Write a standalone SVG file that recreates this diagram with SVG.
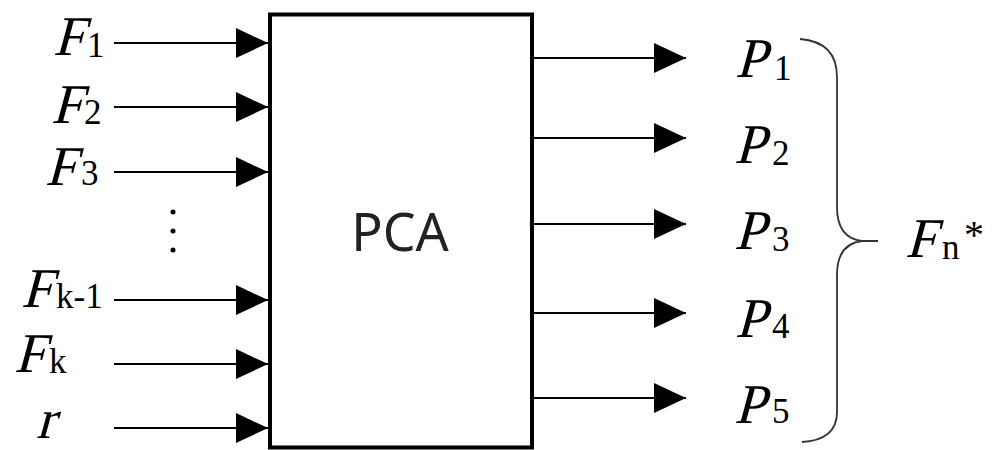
<svg xmlns="http://www.w3.org/2000/svg" width="998" height="450" viewBox="0 0 998 450">
<style>
.v{font-family:"Liberation Serif","Times New Roman",serif;font-size:56px;fill:#000}
.s{font-family:"Liberation Serif","Times New Roman",serif;font-size:35px;fill:#000}
.ln{stroke:#000;stroke-width:2;fill:none}
.box{fill:#fff;stroke:#000;stroke-width:4}
.pca{font-family:"Noto Sans","Open Sans",sans-serif;font-size:52px;fill:#222}
</style>
<defs>
<marker id="ah" markerUnits="userSpaceOnUse" markerWidth="32" markerHeight="32" refX="32" refY="15" orient="auto"><path d="M0,0 L32,15 L0,30 z" fill="#000"/></marker>
</defs>
<rect width="998" height="450" fill="#fff"/>
<g id="connectors">
<line class="ln" x1="114" y1="43" x2="268" y2="43" marker-end="url(#ah)"/>
<line class="ln" x1="114" y1="107" x2="268" y2="107" marker-end="url(#ah)"/>
<line class="ln" x1="114" y1="172" x2="268" y2="172" marker-end="url(#ah)"/>
<line class="ln" x1="114" y1="300" x2="268" y2="300" marker-end="url(#ah)"/>
<line class="ln" x1="114" y1="364" x2="268" y2="364" marker-end="url(#ah)"/>
<line class="ln" x1="114" y1="428" x2="268" y2="428" marker-end="url(#ah)"/>
<line class="ln" x1="533" y1="58" x2="686" y2="58" marker-end="url(#ah)"/>
<line class="ln" x1="533" y1="138" x2="686" y2="138" marker-end="url(#ah)"/>
<line class="ln" x1="533" y1="224" x2="686" y2="224" marker-end="url(#ah)"/>
<line class="ln" x1="533" y1="313" x2="686" y2="313" marker-end="url(#ah)"/>
<line class="ln" x1="533" y1="398" x2="686" y2="398" marker-end="url(#ah)"/>
</g>
<g id="pca">
<rect class="box" x="270" y="14.5" width="262" height="433"/>
<text class="pca" x="400" y="251" text-anchor="middle">PCA</text>
</g>
<g id="inputs">
<text class="v" transform="translate(53,55) skewX(-15)">F</text><text class="s" x="87" y="57">1</text>
<text class="v" transform="translate(51,123) skewX(-15)">F</text><text class="s" x="84" y="124">2</text>
<text class="v" transform="translate(45,185) skewX(-15)">F</text><text class="s" x="81" y="185">3</text>
<text class="v" transform="translate(21,307) skewX(-15)">F</text><text class="s" x="56" y="308">k-1</text>
<text class="v" transform="translate(14,372) skewX(-15)">F</text><text class="s" x="49" y="373">k</text>
<text class="v" transform="translate(36,438) skewX(-15)">r</text>
<circle cx="173" cy="212" r="2.5"/><circle cx="173" cy="231" r="2.5"/><circle cx="173" cy="250" r="2.5"/>
</g>
<g id="outputs">
<text class="v" transform="translate(735,77) skewX(-15)">P</text><text class="s" x="774" y="80">1</text>
<text class="v" transform="translate(734,163) skewX(-15)">P</text><text class="s" x="772" y="165">2</text>
<text class="v" transform="translate(734,249) skewX(-15)">P</text><text class="s" x="772" y="251">3</text>
<text class="v" transform="translate(735,337) skewX(-15)">P</text><text class="s" x="772" y="338">4</text>
<text class="v" transform="translate(734,423) skewX(-15)">P</text><text class="s" x="772" y="423">5</text>
</g>
<g id="brace">
<path d="M800,39 Q837,42 837,77 L837,207 Q837,238 862,241 L878,241 M862,241 Q837,244 837,275 L837,412 Q837,440 802,442" fill="none" stroke="#333" stroke-width="1.8"/>
</g>
<g id="fn">
<text class="v" transform="translate(905,257) skewX(-15)">F</text><text class="s" x="942" y="259">n</text><text class="s" x="964" y="248" style="font-size:40px">*</text>
</g>
</svg>
